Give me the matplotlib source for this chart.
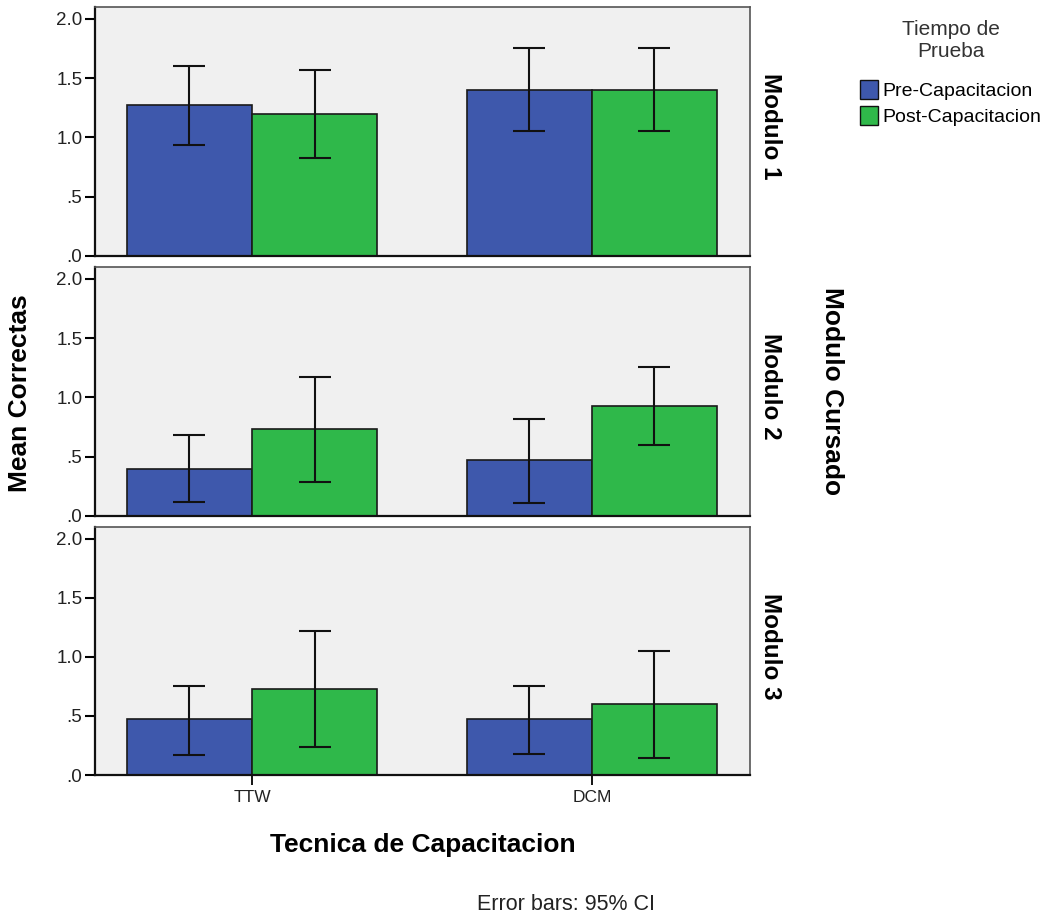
import numpy as np
import matplotlib
matplotlib.use("Agg")
import matplotlib.pyplot as plt
from matplotlib.patches import Patch

plt.rcParams['font.family'] = ['Liberation Sans', 'DejaVu Sans']

# datos
tecnicas = ['TTW', 'DCM']
modulos = ['Modulo 1', 'Modulo 2', 'Modulo 3']
grupos = ['Pre-Capacitacion', 'Post-Capacitacion']

pre_media = [[1.27, 1.40], [0.40, 0.47], [0.47, 0.47]]
pre_lo = [[0.94, 1.05], [0.12, 0.11], [0.17, 0.18]]
pre_hi = [[1.60, 1.75], [0.68, 0.82], [0.75, 0.75]]

post_media = [[1.20, 1.40], [0.73, 0.93], [0.73, 0.60]]
post_lo = [[0.83, 1.05], [0.29, 0.60], [0.24, 0.14]]
post_hi = [[1.57, 1.75], [1.17, 1.26], [1.22, 1.05]]

yticks = [0.0, 0.5, 1.0, 1.5, 2.0]
ytick_labels = ['.0', '.5', '1.0', '1.5', '2.0']

azul = '#3E58AC'
verde = '#2FB84A'

fig = plt.figure(figsize=(10.55, 9.17), dpi=100)

W, H = 1055, 917
tops = [7, 267, 527]
bottoms = [256, 516, 775]
ancho = 0.368
x = np.arange(len(tecnicas))

for i, mod in enumerate(modulos):
    ax = fig.add_axes([95 / W, 1 - bottoms[i] / H, 655 / W, (bottoms[i] - tops[i]) / H])
    ax.set_facecolor('#F0F0F0')

    for medias, lo, hi, color, off in [(pre_media[i], pre_lo[i], pre_hi[i], azul, -ancho / 2),
                                        (post_media[i], post_lo[i], post_hi[i], verde, ancho / 2)]:
        m = np.array(medias)
        err = [m - np.array(lo), np.array(hi) - m]
        ax.bar(x + off, m, width=ancho, color=color, edgecolor='#1a1a1a', linewidth=1.2, zorder=2)
        ax.errorbar(x + off, m, yerr=err, fmt='none', ecolor='#111111', elinewidth=1.5,
                    capsize=11.5, capthick=1.5, zorder=3)

    ax.set_xlim(-0.462, 1.465)
    ax.set_ylim(0, 2.10)
    ax.set_yticks(yticks)
    ax.set_yticklabels(ytick_labels, fontsize=13.5, color='#222222')
    ax.tick_params(axis='y', direction='out', length=7, width=1.5, pad=2)
    ax.set_xticks(x)
    if i == 2:
        ax.set_xticklabels(tecnicas, fontsize=12.5, color='#222222')
        ax.tick_params(axis='x', direction='out', length=7, width=1.3, pad=4)
    else:
        ax.tick_params(axis='x', length=0, labelbottom=False)

    for s in ['left', 'bottom']:
        ax.spines[s].set_color('#111111')
        ax.spines[s].set_linewidth(1.6)
    for s in ['top', 'right']:
        ax.spines[s].set_color('#555555')
        ax.spines[s].set_linewidth(1.2)

    ax.text(1.031, 0.52, mod, transform=ax.transAxes, rotation=-90, ha='center', va='center',
            fontsize=17.5, fontweight='bold')

fig.text(832 / W, 1 - 391 / H, 'Modulo Cursado', rotation=-90, ha='center', va='center',
         fontsize=19, fontweight='bold')
fig.text(20 / W, 1 - 393 / H, 'Mean Correctas', rotation=90, ha='center', va='center',
         fontsize=19, fontweight='bold')
fig.text(423 / W, 1 - 845 / H, 'Tecnica de Capacitacion', ha='center', va='center',
         fontsize=19, fontweight='bold')
fig.text(566 / W, 1 - 905 / H, 'Error bars: 95% CI', ha='center', va='center',
         fontsize=15.5, color='#222222')

handles = [Patch(facecolor=azul, edgecolor='#111111', label=grupos[0]),
           Patch(facecolor=verde, edgecolor='#111111', label=grupos[1])]
leg = fig.legend(handles=handles, title='Tiempo de\nPrueba', loc='upper left',
                 bbox_to_anchor=(860 / W, 1 - 20 / H), frameon=False, fontsize=14,
                 title_fontsize=15, handlelength=0.95, handleheight=1.1, handletextpad=0.2,
                 labelspacing=0.3, borderaxespad=0, borderpad=0)
leg.get_title().set_color('#333333')
leg.get_title().set_multialignment('center')
leg._legend_box.sep = 14

fig.savefig('out.png', dpi=100)
